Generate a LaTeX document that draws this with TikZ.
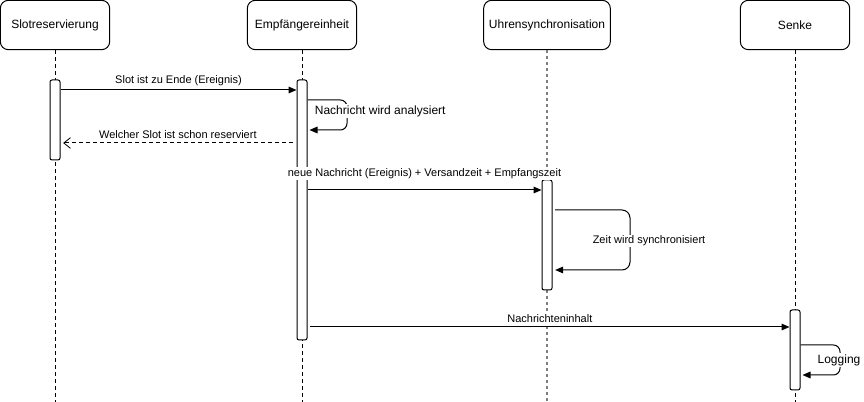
\documentclass[tikz,border=0pt]{standalone}
\usepackage{fontspec}
\setmainfont{Liberation Sans}
\usepackage{tikz}
\usetikzlibrary{arrows.meta}

\begin{document}
\begin{tikzpicture}[x=0.75pt, y=-0.75pt, line width=0.75pt,
    actor/.style={draw, rounded corners=6pt, minimum height=37pt, inner sep=0pt, font=\fontsize{9}{11}\selectfont},
    bar/.style={draw, fill=white, rounded corners=1.5pt, minimum width=7.5pt, inner sep=0pt},
    lifeline/.style={dash pattern=on 3pt off 2.25pt},
    msg/.style={-{Triangle[length=6pt, width=5pt]}},
    reply/.style={dash pattern=on 3pt off 2.25pt, -{Straight Barb[length=5pt, width=8pt, line width=0.6pt]}},
    lbl/.style={font=\fontsize{8.25}{10}\selectfont, fill=white, inner sep=1pt},
    loopl/.style={font=\fontsize{9}{11}\selectfont, fill=white, inner sep=1pt}]
    \useasboundingbox (0,0) rectangle (864,402);

    % Lifelines
    \node[actor, minimum width=82pt] (slot) at (55,25) {Slotreservierung};
    \node[actor, minimum width=82pt] (empf) at (302,25) {Empfängereinheit};
    \node[actor, minimum width=95pt] (uhr) at (547,25) {Uhrensynchronisation};
    \node[actor, minimum width=82pt] (senke) at (795,25) {Senke};
    \coordinate (slotend) at (55,402);
    \coordinate (empfend) at (302,402);
    \coordinate (uhrend) at (547,402);
    \coordinate (senkeend) at (795,402);
    \draw[lifeline] (slot) -- (slotend);
    \draw[lifeline] (empf) -- (empfend);
    \draw[lifeline, gray, line width=1.5pt, dash pattern=on 2.25pt off 2.25pt] (uhr) -- (uhrend);
    \draw[lifeline] (senke) -- (senkeend);

    % Activations
    \node[bar, minimum height=60pt] (slotbar) at (55,120) {};
    \node[bar, minimum height=195pt] (empfbar) at (302,210) {};
    \node[bar, minimum height=82.5pt] (uhrbar) at (547,235) {};
    \node[bar, minimum height=60pt] (senkebar) at (795,350) {};

    % Slot ends
    \draw[msg] (slotbar.east |- 0,90) -- (empfbar.west |- 0,90)
        node[lbl, midway, above=2pt] {Slot ist zu Ende (Ereignis)};
    \draw[msg, rounded corners=5pt] (empfbar.east |- 0,100) -- (347,100) -- (347,130) -- ([xshift=1.5pt]empfbar.east |- 0,130);
    \node[loopl, anchor=west] (analyse) at (313,111) {Nachricht wird analysiert};
    \draw[reply] ([xshift=-3pt]empfbar.west |- 0,143) -- ([xshift=2pt]slotbar.east |- 0,143)
        node[lbl, midway, above=2pt] {Welcher Slot ist schon reserviert};

    % Clock synchronisation
    \draw[msg] (empfbar.east |- 0,190) -- (uhrbar.west |- 0,190)
        node[lbl, midway, above=7pt] {neue Nachricht (Ereignis) + Versandzeit + Empfangszeit};
    \draw[msg, rounded corners=6pt] ([xshift=2pt]uhrbar.east |- 0,210) -- (630,210) -- (630,270) -- ([xshift=2pt]uhrbar.east |- 0,270);
    \node[lbl] (sync) at (649,241) {Zeit wird synchronisiert};

    % Sink
    \draw[msg] ([xshift=2pt]empfbar.east |- 0,327) -- (senkebar.west |- 0,327)
        node[lbl, midway, above=2pt] {Nachrichteninhalt};
    \draw[msg, rounded corners=5pt] (senkebar.east |- 0,345) -- (840,345) -- (840,375) -- ([xshift=1.5pt]senkebar.east |- 0,375);
    \node[loopl] (log) at (839,360) {Logging};
\end{tikzpicture}
\end{document}
